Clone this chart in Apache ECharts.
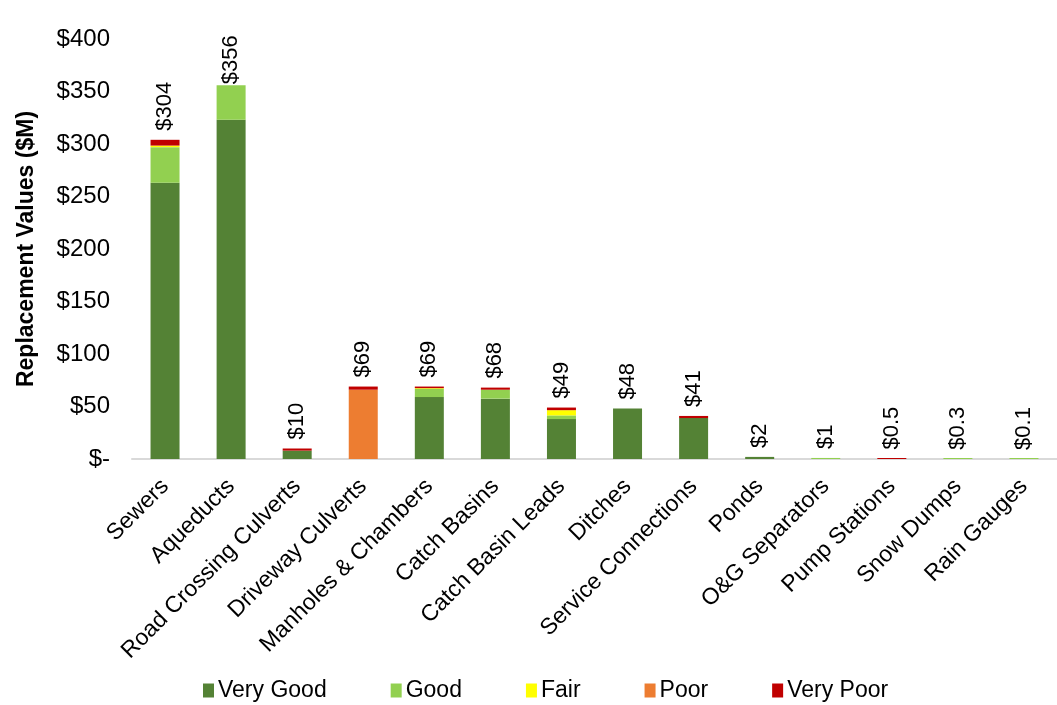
<!DOCTYPE html>
<html>
<head>
<meta charset="utf-8">
<script src="https://cdn.jsdelivr.net/npm/echarts@6/dist/echarts.min.js"></script>
<style>html,body{margin:0;padding:0;background:#fff;}#chart{width:1057px;height:705px;}</style>
</head>
<body>
<div id="chart"></div>
<script>
const categories = ['Sewers','Aqueducts','Road Crossing Culverts','Driveway Culverts','Manholes & Chambers','Catch Basins','Catch Basin Leads','Ditches','Service Connections','Ponds','O&G Separators','Pump Stations','Snow Dumps','Rain Gauges'];
const veryGood = [263, 323, 8, null, 59, 57.5, 38, 48, 39, 2, null, null, null, null];
const good     = [34, 33, null, null, 8, 8.5, 3.5, null, null, null, 1, null, 0.3, 0.1];
const fair     = [1.5, null, null, null, 0.5, null, 5, null, null, null, null, null, null, null];
const poor     = [null, null, null, 66, null, null, null, null, null, null, null, null, null, null];
const veryPoor = [5.5, null, 2, 3, 1.5, 2, 2.5, null, 2, null, null, 0.5, null, null];
const totalLabels = ['$304','$356','$10','$69','$69','$68','$49','$48','$41','$2','$1','$0.5','$0.3','$0.1'];
const yTicks = [0, 50, 100, 150, 200, 250, 300, 350, 400];

const FONT = '"Liberation Sans", Arial, sans-serif';
const chart = echarts.init(document.getElementById('chart'), null, {renderer: 'canvas'});

function seg(name, data, color) {
  return {
    name: name, type: 'bar', stack: 'total', data: data,
    barWidth: 29, barMinHeight: 1,
    itemStyle: {color: color},
    emphasis: {disabled: true}
  };
}

// Labels that would overflow the plot top are kept inside it (as in the original)
const totalData = categories.map((c, i) => i === 1 ? {value: 0, label: {distance: 1}} : 0);

chart.setOption({
  animation: false,
  textStyle: {fontFamily: FONT},
  grid: {left: 132, right: -13, top: 39, bottom: 246, containLabel: false},
  legend: {
    data: ['Very Good','Good','Fair','Poor','Very Poor'],
    left: 198, top: 674,
    itemWidth: 11, itemHeight: 14, itemGap: 64,
    icon: 'rect',
    textStyle: {fontSize: 23, color: '#000', fontFamily: FONT, padding: [0,0,0,-1]}
  },
  xAxis: {
    type: 'category', data: categories,
    axisLine: {lineStyle: {color: '#d9d9d9', width: 2}},
    axisTick: {show: false},
    axisLabel: {interval: 0, rotate: 45, fontSize: 23, color: '#000', margin: 24, fontFamily: FONT}
  },
  yAxis: {
    type: 'value', min: 0, max: 400, interval: 50,
    name: 'Replacement Values ($M)', nameLocation: 'middle', nameGap: 94, nameRotate: 90,
    nameTextStyle: {fontSize: 23, fontWeight: 'bold', color: '#000', fontFamily: FONT},
    splitLine: {show: false},
    axisLine: {show: false}, axisTick: {show: false},
    axisLabel: {fontSize: 24, color: '#000', margin: 22, fontFamily: FONT,
      formatter: v => yTicks.indexOf(v) < 0 ? '' : (v === 0 ? '$-' : '$' + v)}
  },
  series: [
    seg('Very Good', veryGood, '#548235'),
    seg('Good', good, '#92d050'),
    seg('Fair', fair, '#ffff00'),
    seg('Poor', poor, '#ed7d31'),
    seg('Very Poor', veryPoor, '#c00000'),
    {
      name: 'Total', type: 'bar', stack: 'total', barWidth: 29,
      data: totalData,
      itemStyle: {color: 'transparent'},
      emphasis: {disabled: true},
      label: {
        show: true, position: 'top', rotate: 90, distance: 9,
        align: 'left', verticalAlign: 'middle',
        fontSize: 22, color: '#000', fontFamily: FONT,
        formatter: p => totalLabels[p.dataIndex]
      }
    }
  ]
});
</script>
</body>
</html>
